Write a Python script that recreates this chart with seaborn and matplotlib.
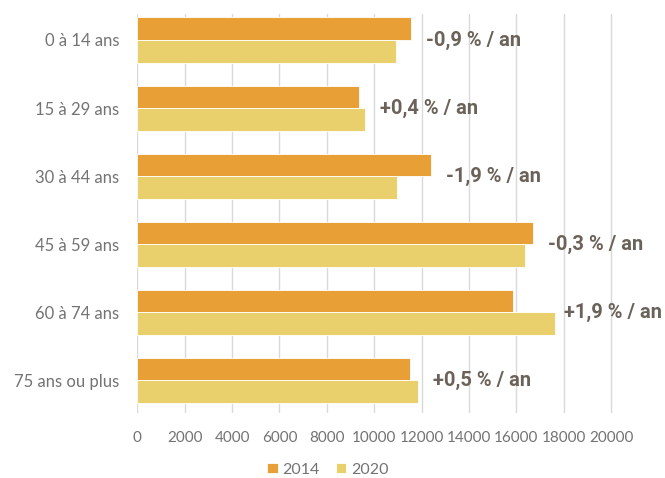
import matplotlib
matplotlib.use("Agg")
import matplotlib.pyplot as plt
import seaborn as sns
import pandas as pd

categories = ["0 à 14 ans", "15 à 29 ans", "30 à 44 ans", "45 à 59 ans", "60 à 74 ans", "75 ans ou plus"]
values_2014 = [11550, 9380, 12390, 16690, 15860, 11530]
values_2020 = [10940, 9610, 10960, 16360, 17650, 11850]
labels = ["-0,9 % / an", "+0,4 % / an", "-1,9 % / an", "-0,3 % / an", "+1,9 % / an", "+0,5 % / an"]
years = ["2014", "2020"]
xticks = list(range(0, 20001, 2000))

df = pd.DataFrame({
    "cat": categories * 2,
    "val": values_2014 + values_2020,
    "year": [years[0]] * len(categories) + [years[1]] * len(categories),
})

sns.set_theme(style="white")
plt.rcParams["font.family"] = ["Lato", "DejaVu Sans"]

px_per_unit = (611 - 137.3) / 20000
xmax = 20100
fig = plt.figure(figsize=(6.65, 4.78), dpi=100)
ax = fig.add_axes([137.3 / 665, 1 - 413 / 478, xmax * px_per_unit / 665, (413 - 14) / 478])

palette = {"2014": "#E89F35", "2020": "#E9D06D"}
sns.barplot(data=df, y="cat", x="val", hue="year", hue_order=years, order=categories,
            palette=palette, orient="h", width=0.662, ax=ax, saturation=1,
            edgecolor="white", linewidth=0.6)

ax.set_xlim(0, xmax)
ax.set_ylim(5.482, -0.382)
ax.set_xticks(xticks)
ax.set_xticklabels([str(t) for t in xticks])
ax.xaxis.grid(True, color="#D9D9D9", linewidth=1)
ax.set_axisbelow(True)
for s in ax.spines.values():
    s.set_visible(False)
ax.set_xlabel("")
ax.set_ylabel("")
ax.tick_params(axis="x", length=0, pad=13, labelsize=11, labelcolor="#737373")
ax.tick_params(axis="y", length=0, pad=13, labelsize=12, labelcolor="#737373")

renderer = fig.canvas.get_renderer()
fig_w_px = fig.get_figwidth() * fig.dpi
for i, (a, b, lab) in enumerate(zip(values_2014, values_2020, labels)):
    ann = ax.annotate(lab, xy=(max(a, b), i), xytext=(11, 0), textcoords="offset points",
                      va="center", ha="left", fontsize=14.5, fontweight="bold",
                      color="#6B6259", family=["Roboto", "DejaVu Sans"],
                      annotation_clip=False)
    ext = ann.get_window_extent(renderer)
    overflow = ext.x1 - (fig_w_px - 3)
    if overflow > 0:
        ann.set_position((11 - overflow * 72 / fig.dpi, 0))

leg = ax.legend(loc="center", bbox_to_anchor=(0.4, -0.142), ncol=2, frameon=False,
                fontsize=11.5, handlelength=0.65, handleheight=0.65, handletextpad=0.3,
                columnspacing=1.0, labelcolor="#737373")

fig.savefig("out.png", dpi=100)
